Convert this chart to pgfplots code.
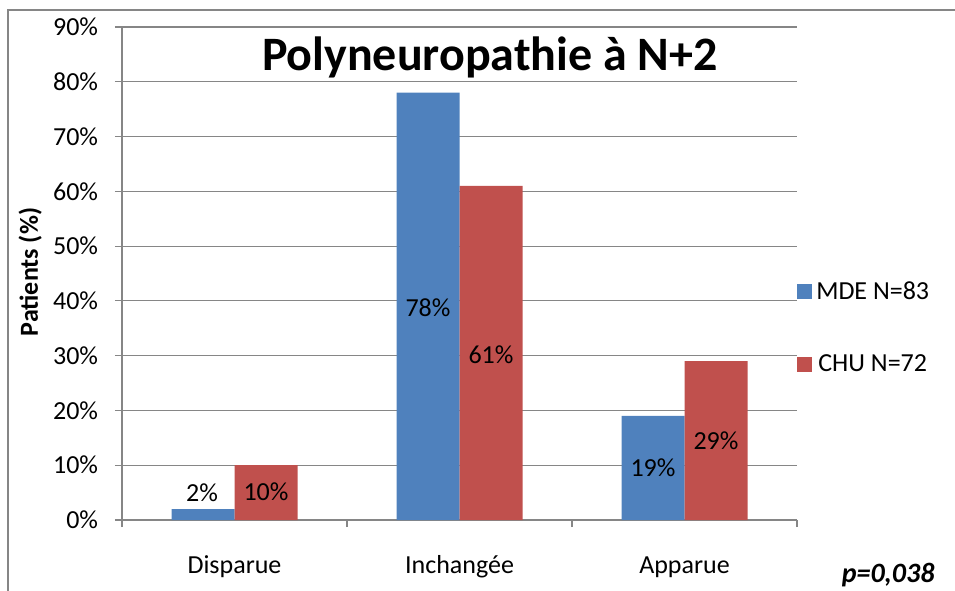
\documentclass[border=0pt]{standalone}
\usepackage{fontspec}
\setmainfont{Carlito}
\usepackage{pgfplots}
\pgfplotsset{compat=1.18}
\definecolor{mde}{RGB}{79,129,189}
\definecolor{chu}{RGB}{192,80,77}
\definecolor{gridc}{RGB}{134,134,134}
\begin{document}
\begin{tikzpicture}
\path[use as bounding box] (-91.5pt,-52.5pt) rectangle (624.75pt,390pt);
\draw[gridc, line width=1.5pt] (-85.5pt,-60pt) -- (-85.5pt,382.5pt) -- (630pt,382.5pt);
\begin{axis}[
  at={(0,0)}, anchor=south west,
  scale only axis, width=506.25pt, height=369.75pt,
  xmin=-0.5, xmax=2.5, ymin=0, ymax=90,
  clip=false,
  font=\fontsize{19.5}{23}\selectfont,
  /pgf/number format/assume math mode=true,
  axis x line*=bottom, axis y line*=left,
  axis line style={gridc, line width=0.9pt},
  ytick={0,10,...,90},
  yticklabel={\pgfmathprintnumber{\tick}\%},
  ymajorgrids, major grid style={gridc, line width=0.9pt},
  tick align=outside,
  major tick length=5.25pt,
  tick style={gridc, line width=0.9pt},
  xtick={0,1,2}, xticklabels={Disparue,Inchangée,Apparue},
  major x tick style={draw=none},
  minor xtick={-0.5,0.5,1.5,2.5},
  minor x tick style={gridc, line width=0.9pt},
  minor tick length=5.25pt,
  x tick label style={anchor=center, yshift=-30pt},
  y tick label style={anchor=east, inner sep=0pt, xshift=-12.5pt},
  ylabel={\textbf{Patients (\%)}},
  ylabel style={at={(axis description cs:-0.136,0.503)}, anchor=center},
  every axis plot post/.append style={legend image code/.code={\fill[##1] (0pt,-5.6pt) rectangle (11.25pt,5.6pt);}},
  legend style={at={(axis description cs:1,0.39)}, anchor=west, draw=none, fill=none,
    inner sep=0pt, row sep=36pt, font=\fontsize{19.5}{23}\selectfont,
    /tikz/every odd column/.append style={column sep=1pt}},
]
\addplot[ybar, bar width=0.28, bar shift=-0.14, fill=mde, draw=none]
  coordinates {(0,2) (1,78) (2,19)};
\addlegendentry{MDE N=83}
\addplot[ybar, bar width=0.28, bar shift=0.14, fill=chu, draw=none]
  coordinates {(0,10) (1,61) (2,29)};
\addlegendentry{CHU N=72}
\node at (axis cs:-0.144,4.93) {2\%};
\node at (axis cs:0.14,5.1) {10\%};
\node at (axis cs:0.86,38.7) {78\%};
\node at (axis cs:1.14,30.1) {61\%};
\node at (axis cs:1.86,9.5) {19\%};
\node at (axis cs:2.14,14.4) {29\%};
\node[font=\bfseries\fontsize{36}{40}\selectfont] at (rel axis cs:0.545,0.939) {Polyneuropathie à N+2};
\node[font=\bfseries\itshape\fontsize{21}{25}\selectfont] at (rel axis cs:1.135,-0.1116) {p=0,038};
\end{axis}
\end{tikzpicture}
\end{document}
